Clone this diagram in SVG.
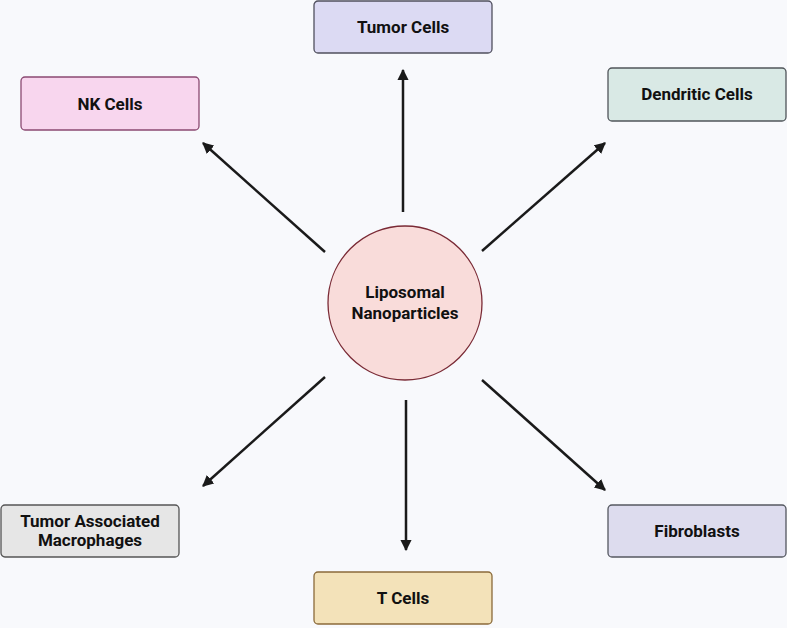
<svg xmlns="http://www.w3.org/2000/svg" width="787" height="628" viewBox="0 0 787 628">
<defs>
<marker id="ah" viewBox="0 0 10 10" refX="9" refY="5" markerWidth="4.5" markerHeight="4.5" orient="auto" markerUnits="strokeWidth">
<path d="M0,0 L10,5 L0,10 z" fill="#1a1a1a"/>
</marker>
<style>
text{font-family:Roboto,"Liberation Sans",sans-serif;font-weight:bold;font-size:17px;fill:#111;text-anchor:middle;dominant-baseline:central}
.box{stroke-width:1.3}
.c line{stroke:#1a1a1a;stroke-width:2.5;marker-end:url(#ah)}
</style>
</defs>
<rect width="787" height="628" fill="#f8f9fc"/>
<g class="c" id="connectors">
<line x1="403" y1="212" x2="403" y2="70"/>
<line x1="325" y1="252" x2="203" y2="143"/>
<line x1="482" y1="251" x2="605" y2="143"/>
<line x1="325" y1="377" x2="203" y2="486"/>
<line x1="406" y1="400" x2="406" y2="550"/>
<line x1="482" y1="380" x2="605" y2="490"/>
</g>
<g id="center">
<circle cx="405" cy="303" r="77" fill="#f9dcda" stroke="#7a2a35" stroke-width="1.3"/>
<text x="405" y="292">Liposomal</text>
<text x="405" y="313">Nanoparticles</text>
</g>
<g id="tumor">
<rect class="box" x="314" y="1" width="178" height="52" rx="4" fill="#dcdaf3" stroke="#50505e"/>
<text x="403" y="27">Tumor Cells</text>
</g>
<g id="nk">
<rect class="box" x="21" y="77" width="178" height="53" rx="4" fill="#f8d6ee" stroke="#8a4a72"/>
<text x="110" y="104">NK Cells</text>
</g>
<g id="dendritic">
<rect class="box" x="608" y="68" width="178" height="53" rx="4" fill="#d9e9e5" stroke="#50555a"/>
<text x="697" y="94">Dendritic Cells</text>
</g>
<g id="tam">
<rect class="box" x="1" y="505" width="178" height="52" rx="4" fill="#e6e6e6" stroke="#555"/>
<text x="90" y="521">Tumor Associated</text>
<text x="90" y="540">Macrophages</text>
</g>
<g id="tcells">
<rect class="box" x="314" y="572" width="178" height="52" rx="4" fill="#f3e2b9" stroke="#8a6a3a"/>
<text x="403" y="598">T Cells</text>
</g>
<g id="fibro">
<rect class="box" x="608" y="505" width="178" height="52" rx="4" fill="#dddcee" stroke="#555860"/>
<text x="697" y="531">Fibroblasts</text>
</g>
</svg>
